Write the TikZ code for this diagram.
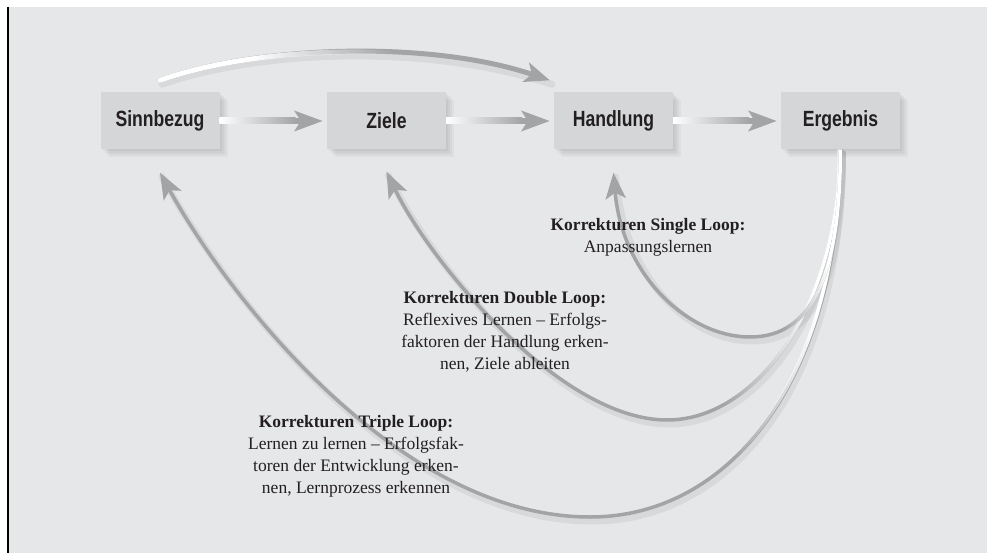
\documentclass[tikz,border=0pt]{standalone}
\usepackage{fontspec}
\setmainfont{Liberation Serif}
\newfontfamily\boxfont[FakeStretch=0.8]{Liberation Sans}
\usetikzlibrary{arrows.meta,fadings,shadows}
\definecolor{bgc}{HTML}{E6E7E9}
\definecolor{boxc}{HTML}{D5D6D8}
\definecolor{argray}{HTML}{A3A4A6}
\definecolor{txt}{HTML}{231F20}
\pgfdeclarehorizontalshading{shTop}{100bp}{color(0bp)=(white); color(37bp)=(white); color(55bp)=(black); color(100bp)=(black)}
\pgfdeclarefading{fadeTop}{\pgfuseshading{shTop}}
\pgfdeclarehorizontalshading{shS}{100bp}{color(0bp)=(black); color(62bp)=(black); color(72bp)=(white); color(100bp)=(white)}
\pgfdeclarefading{fadeS}{\pgfuseshading{shS}}
\pgfdeclarehorizontalshading{shD}{100bp}{color(0bp)=(black); color(62bp)=(black); color(72bp)=(white); color(100bp)=(white)}
\pgfdeclarefading{fadeD}{\pgfuseshading{shD}}
\pgfdeclarehorizontalshading{shT}{100bp}{color(0bp)=(black); color(67bp)=(black); color(73bp)=(white); color(100bp)=(white)}
\pgfdeclarefading{fadeT}{\pgfuseshading{shT}}
\begin{document}
\begin{tikzpicture}[x=1pt,y=-1pt,
  box/.style={fill=boxc, minimum width=119pt, minimum height=57pt, inner sep=0pt,
    font=\boxfont\bfseries\fontsize{22}{26}\selectfont, text=txt,
    general shadow={fill=black, opacity=0.035, shadow xshift=2pt, shadow yshift=-2pt},
    general shadow={fill=black, opacity=0.035, shadow xshift=4pt, shadow yshift=-4pt},
    general shadow={fill=black, opacity=0.035, shadow xshift=6pt, shadow yshift=-6pt},
    general shadow={fill=black, opacity=0.03, shadow xshift=8pt, shadow yshift=-8pt}},
  lab/.style={align=center, text=txt, font=\fontsize{17.5}{22}\selectfont, inner sep=0pt},
  harr/.style={argray, line width=6pt, -{Stealth[length=28pt,width=20pt,inset=6pt]}, shorten >=4pt},
  looparr/.style={argray, line width=3.5pt, -{Stealth[length=26pt,width=20pt,inset=6pt]}},
  loopwhite/.style={white, line width=3.5pt},
  shadowline/.style={black, opacity=0.06, line width=7pt, line cap=round}
]
\useasboundingbox (0,0) rectangle (987,553);
\fill[white] (0,0) rectangle (987,553);
\fill[bgc] (8,7) rectangle (987,553);
\draw[black, line width=2.2pt] (8,7) -- (8,553);

% boxes
\node[box] (sinn) at (160,121) {Sinnbezug};
\node[box] (ziele) at (386.5,121) {Ziele};
\node[box] (hand) at (613.5,121) {Handlung};
\node[box] (erg) at (840.5,121) {Ergebnis};

\coordinate (arcS) at ([yshift=12pt]sinn.north);
\coordinate (arcE) at ([xshift=-4pt,yshift=12pt]hand.north west);
\coordinate (tipS) at ([yshift=-23pt]hand.south);
\coordinate (tipD) at ([yshift=-22pt]ziele.south);
\coordinate (tipT) at ([yshift=-23pt]sinn.south);

% shadows of connectors
\begin{scope}[transform canvas={shift={(2pt,-4pt)}}]
\draw[shadowline] (arcS) .. controls (260,45) and (430,40) .. (arcE);
\draw[shadowline] (erg.south) .. controls (840,270) and (815,337) .. (750,337) .. controls (688,337) and (622,275) .. (tipS);
\draw[shadowline] (erg.south) .. controls (840,300) and (760,420) .. (667,420) .. controls (560,420) and (430,262) .. (tipD);
\draw[shadowline] (erg.south) .. controls (840,380) and (730,517) .. (590,517) .. controls (400,517) and (230,300) .. (tipT);
\end{scope}

% top arc
\draw[argray, line width=5pt, line cap=round, -{Stealth[length=25pt,width=20pt,inset=6pt]}] (arcS) .. controls (260,45) and (430,40) .. (arcE);
\draw[white, line width=5pt, line cap=round, path fading=fadeTop] (arcS) .. controls (260,45) and (430,40) .. (arcE);

% horizontal arrows
\draw[harr] (sinn.east) -- (ziele.west);
\draw[harr] (ziele.east) -- (hand.west);
\draw[harr] (hand.east) -- (erg.west);
\shade[left color=white, right color=argray] ([yshift=3pt]sinn.east) rectangle ([xshift=76pt,yshift=-3pt]sinn.east);
\shade[left color=white, right color=argray] ([yshift=3pt]ziele.east) rectangle ([xshift=76pt,yshift=-3pt]ziele.east);
\shade[left color=white, right color=argray] ([yshift=3pt]hand.east) rectangle ([xshift=76pt,yshift=-3pt]hand.east);

% loops
\draw[looparr] (erg.south) .. controls (840,380) and (730,517) .. (590,517) .. controls (400,517) and (230,300) .. (tipT);
\draw[loopwhite, path fading=fadeT] (erg.south) .. controls (840,380) and (730,517) .. (590,517) .. controls (400,517) and (230,300) .. (tipT);
\draw[looparr] (erg.south) .. controls (840,300) and (760,420) .. (667,420) .. controls (560,420) and (430,262) .. (tipD);
\draw[loopwhite, path fading=fadeD] (erg.south) .. controls (840,300) and (760,420) .. (667,420) .. controls (560,420) and (430,262) .. (tipD);
\draw[looparr] (erg.south) .. controls (840,270) and (815,337) .. (750,337) .. controls (688,337) and (622,275) .. (tipS);
\draw[loopwhite, path fading=fadeS] (erg.south) .. controls (840,270) and (815,337) .. (750,337) .. controls (688,337) and (622,275) .. (tipS);

% labels
\node[lab] (lS) at (648,237.5) {\textbf{Korrekturen Single Loop:}\\Anpassungslernen};
\node[lab] (lD) at (505,332) {\textbf{Korrekturen Double Loop:}\\Reflexives Lernen – Erfolgs-\\faktoren der Handlung erken-\\nen, Ziele ableiten};
\node[lab] (lT) at (356,456) {\textbf{Korrekturen Triple Loop:}\\Lernen zu lernen – Erfolgsfak-\\toren der Entwicklung erken-\\nen, Lernprozess erkennen};
\end{tikzpicture}
\end{document}
